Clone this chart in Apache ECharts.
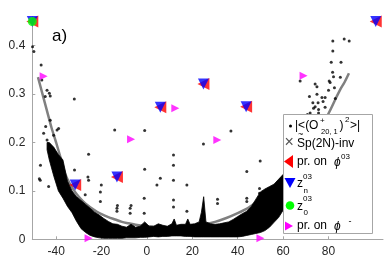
<!DOCTYPE html>
<html><head><meta charset="utf-8">
<script src="https://cdn.jsdelivr.net/npm/echarts@6/dist/echarts.min.js"></script>
<style>html,body{margin:0;padding:0;background:#fff}#c{width:385px;height:272px}</style>
</head><body><div id="c"></div>
<script>
// ---- data ----
const xTicks = [-40, -20, 0, 20, 40, 60, 80];
const yTicks = [0, 0.1, 0.2, 0.3, 0.4];

// dense cloud of |<(O+_{20,1})^2>| : lower / upper envelope
const bandX    = [-44, -43, -41, -39, -37, -35, -33, -31, -29, -27, -25, -23, -21, -19, -17, -15, -13, -11, -9, -7, -5, -3, -1, 1, 3, 5, 7, 9, 11, 12, 13, 15, 17, 18, 19, 21, 23, 24, 25, 26, 28, 30, 32, 34, 36, 38, 40, 42, 44, 46, 48, 50, 52, 54, 56, 58, 60, 61];
const bandLow  = [0.185, 0.164, 0.13, 0.10, 0.085, 0.068, 0.055, 0.037, 0.022, 0.014, 0.008, 0.005, 0.003, 0.002, 0.002, 0.002, 0.002, 0.002, 0.003, 0.003, 0.003, 0.004, 0.004, 0.005, 0.006, 0.005, 0.006, 0.006, 0.007, 0.007, 0.007, 0.007, 0.006, 0.006, 0.006, 0.005, 0.005, 0.005, 0.005, 0.005, 0.005, 0.005, 0.005, 0.005, 0.005, 0.005, 0.005, 0.006, 0.008, 0.010, 0.012, 0.014, 0.018, 0.025, 0.035, 0.045, 0.060, 0.070];
const bandHigh = [0.200, 0.200, 0.19, 0.175, 0.164, 0.12, 0.10, 0.088, 0.080, 0.072, 0.064, 0.056, 0.050, 0.043, 0.037, 0.032, 0.031, 0.027, 0.025, 0.031, 0.025, 0.027, 0.036, 0.027, 0.027, 0.032, 0.029, 0.027, 0.032, 0.042, 0.029, 0.031, 0.031, 0.042, 0.031, 0.032, 0.036, 0.056, 0.088, 0.036, 0.032, 0.031, 0.032, 0.034, 0.036, 0.041, 0.047, 0.053, 0.058, 0.068, 0.083, 0.098, 0.104, 0.109, 0.114, 0.124, 0.134, 0.140];

// grey Sp(2N)-inv curve
const curveX = [-48, -46, -44, -42, -40, -38, -36, -34, -32, -30, -28, -26, -24, -22, -20, -17, -14, -11, -8, -5, 0, 5, 10, 15, 20, 25, 30, 35, 40, 45, 48.5, 52, 56, 60, 65, 70, 75, 80, 83.4, 85.2, 87, 89];
const curveY = [0.335, 0.30, 0.265, 0.23, 0.20, 0.168, 0.135, 0.115, 0.10, 0.088, 0.078, 0.07, 0.063, 0.057, 0.052, 0.046, 0.041, 0.036, 0.033, 0.030, 0.027, 0.025, 0.025, 0.026, 0.028, 0.031, 0.036, 0.044, 0.054, 0.066, 0.078, 0.092, 0.11, 0.13, 0.16, 0.19, 0.22, 0.26, 0.293, 0.31, 0.324, 0.343];

// sparse points of the same quantity
const dotX = [-50.4, -49.8, -46.6, -46.3, -44, -42.6, -44.8, -43, -32, -38.9, -45.5, -43.3, -46.9, -47.4, -47, -43.3, -44.6, -42.6, -39.6, -44, -41.1,
  -25.7, -26, -25.7, -31.9, -20.1, -20.5, -20.5, -27.2, -14.2, -34.5,
  -13.2, -13.2, -13, -7.4, -7.4, -7, -1.2, -1.2, -1, -1, 4.4, 5.9, 11.7, 11.7, 11.7, 11.7, 11.7, 17.6, 17.6, 24.9, 37, 49.9, 44, 49.6, 49.6, 44, 44, 31.1, 31.1,
  81.9, 86.9, 89.1, 81.9, 81.2, 85.5, 81.8, 82.2, 80.3, 80.7, 85.2, 82.6, 80, 67.5, 74.1, 74.9, 71.6, 74.9, 77.1, 78.5, 73.1, 75.4, 77.6, 78.5, 73.4, 75.6, 71.9, 75.6, 70.7, 83, 74.1];
const dotY = [0.398, 0.388, 0.36, 0.329, 0.308, 0.296, 0.295, 0.302, 0.29, 0.229, 0.219, 0.188, 0.153, 0.125, 0.122, 0.109, 0.233, 0.246, 0.226, 0.205, 0.215,
  0.176, 0.129, 0.122, 0.143, 0.112, 0.098, 0.078, 0.092, 0.226, 0.078,
  0.064, 0.058, 0.07, 0.064, 0.054, 0.07, 0.085, 0.054, 0.145, 0.225, 0.112, 0.126, 0.122, 0.081, 0.067, 0.174, 0.153, 0.112, 0.058, 0.197, 0.224, 0.162, 0.14, 0.105, 0.095, 0.085, 0.078, 0.083, 0.074,
  0.41, 0.414, 0.41, 0.389, 0.366, 0.366, 0.345, 0.336, 0.327, 0.324, 0.335, 0.313, 0.308, 0.327, 0.321, 0.315, 0.295, 0.30, 0.293, 0.293, 0.282, 0.282, 0.285, 0.273, 0.271, 0.268, 0.261, 0.261, 0.258, 0.291, 0.274];

// projections / zeros
const prPhi03X = [-50.5, -31.6, -13.2, 5.9, 24.9, 43.7, 100.8];
const prPhi03Y = [0.45, 0.112, 0.129, 0.273, 0.321, 0.274, 0.45];
const zn03X = [-50.5, -31.6, -13.2, 5.9, 24.9, 43.7, 100.8];
const zn03Y = [0.45, 0.112, 0.129, 0.273, 0.321, 0.274, 0.45];
const z003X = [-50.5];
const z003Y = [0.45];
const prPhiMX = [-45.5, -25.7, -7.0, 12.5, 31.0, 50.0, 69.0];
const prPhiMY = [0.337, 0.002, 0.207, 0.271, 0.205, 0.002, 0.338];

const zip = (a, b) => a.map((v, i) => [v, b[i]]);
const FONT = "'Liberation Sans', Arial, sans-serif";
const AX = '#a6a6a6', TXT = '#262626';

const chart = echarts.init(document.getElementById('c'), null, {renderer: 'canvas'});

function t(text, x, y, size, extra) {
  return Object.assign({type: 'text', x: x, y: y, z: 101,
    style: Object.assign({text: text, fontFamily: FONT, fontSize: size, fill: '#000', textVerticalAlign: 'middle', textAlign: 'left'}, extra || {})});
}

const legendG = [
  {type: 'rect', z: 100, shape: {x: 283.5, y: 114.5, width: 89, height: 119}, style: {fill: '#fff', stroke: AX, lineWidth: 1}},
  {type: 'circle', z: 101, shape: {cx: 290.5, cy: 126, r: 1.5}, style: {fill: '#000'}},
  t('|<(O', 295, 126, 12), t('+', 320, 120.5, 8), t('20, 1', 321, 131.5, 7.5), t(')', 339.5, 126, 12), t('2', 345, 120, 8), t('>|', 350, 126, 12),
  t('\u00d7', 284.5, 143, 16, {fill: '#555'}),
  t('~', 298, 134.5, 9), t('Sp(2N)-inv', 297, 143.5, 12),
  {type: 'polygon', z: 101, shape: {points: [[284, 161.5], [293, 155], [293, 168]]}, style: {fill: '#ff0000'}},
  t('pr. on', 297, 162, 12), t('\u03d5', 334, 163, 12, {fontStyle: 'italic'}), t('03', 341, 156.5, 8),
  {type: 'polygon', z: 101, shape: {points: [[284.5, 178], [295.5, 178], [290, 188]]}, style: {fill: '#0000ff'}},
  t('z', 297, 184, 12), t('03', 303, 176.5, 8), t('n', 303.5, 191, 8),
  {type: 'circle', z: 101, shape: {cx: 290, cy: 205.5, r: 4.3}, style: {fill: '#00ff00'}},
  t('z', 297, 206.5, 12), t('03', 303, 199, 8), t('0', 303.5, 213, 8),
  {type: 'polygon', z: 101, shape: {points: [[285, 221.5], [293, 226], [285, 230.5]]}, style: {fill: '#ff00ff'}},
  t('pr. on', 297, 226, 12), t('\u03d5', 334, 227, 12, {fontStyle: 'italic'}), t('-', 348.5, 222, 9),
  t('a)', 52, 36, 17)
];

const option = {
  animation: false,
  backgroundColor: '#fff',
  grid: {left: 32.3, right: 2, top: 16.7, bottom: 32.7, containLabel: false},
  xAxis: {
    type: 'value', min: -50.5, max: 104,
    axisLine: {show: true, onZero: false, lineStyle: {color: AX, width: 1}},
    axisTick: {show: true, inside: true, length: 3, customValues: xTicks, lineStyle: {color: AX}},
    axisLabel: {customValues: xTicks, color: TXT, fontSize: 12, fontFamily: FONT, margin: 6},
    splitLine: {show: false}
  },
  yAxis: {
    type: 'value', min: 0, max: 0.46,
    axisLine: {show: true, onZero: false, lineStyle: {color: AX, width: 1}},
    axisTick: {show: true, inside: true, length: 3, customValues: yTicks, lineStyle: {color: AX}},
    axisLabel: {customValues: yTicks, color: TXT, fontSize: 12, fontFamily: FONT, margin: 7, formatter: v => String(+v.toFixed(2))},
    splitLine: {show: false}
  },
  graphic: legendG,
  series: [
    {type: 'line', name: 'Sp(2N)-inv', data: zip(curveX, curveY), showSymbol: false, smooth: 0.3, z: 2,
      lineStyle: {color: '#808080', width: 2.5}, silent: true},
    {type: 'custom', name: 'band', z: 3, silent: true, data: [[0, 0]],
      renderItem: function (params, api) {
        const pts = [];
        for (let i = 0; i < bandX.length; i++) pts.push(api.coord([bandX[i], bandHigh[i]]));
        for (let i = bandX.length - 1; i >= 0; i--) pts.push(api.coord([bandX[i], bandLow[i]]));
        return {type: 'polygon', shape: {points: pts}, style: {fill: '#000', stroke: '#000', lineWidth: 0.8}};
      }},
    {type: 'scatter', name: 'O2', data: zip(dotX, dotY), symbol: 'circle', symbolSize: 3, z: 4,
      itemStyle: {color: '#000'}, clip: false},
    {type: 'scatter', name: 'pr. on phi03', data: zip(prPhi03X, prPhi03Y), symbol: 'triangle', symbolRotate: 90, symbolSize: 12, z: 5,
      itemStyle: {color: '#ff0000'}, clip: false},
    {type: 'scatter', name: 'z_n^03', data: zip(zn03X, zn03Y), symbol: 'triangle', symbolRotate: 180, symbolSize: 11, z: 6,
      itemStyle: {color: '#0000ff'}, clip: false},
    {type: 'scatter', name: 'z_0^03', data: zip(z003X, z003Y), symbol: 'circle', symbolSize: 9, z: 7,
      itemStyle: {color: '#00ff00'}, clip: false},
    {type: 'scatter', name: 'pr. on phi-', data: zip(prPhiMX, prPhiMY), symbol: 'triangle', symbolRotate: -90, symbolSize: 8, z: 8,
      itemStyle: {color: '#ff00ff'}, clip: false}
  ]
};
chart.setOption(option);
</script>
</body></html>
